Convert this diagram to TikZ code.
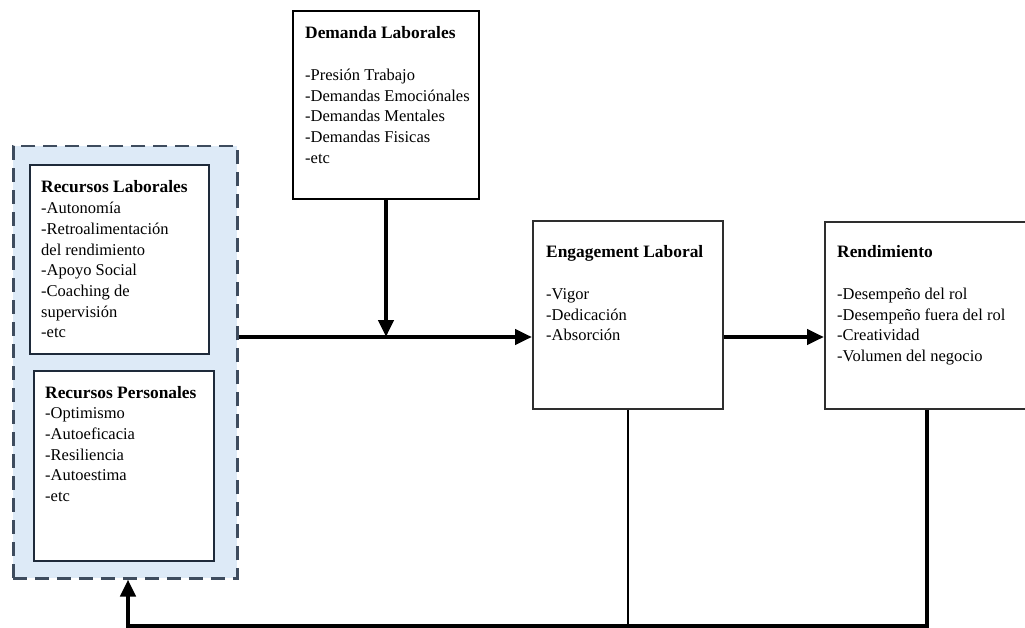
\documentclass[tikz,border=0pt]{standalone}
\usepackage{fontspec}
\setmainfont{Liberation Serif}
\usetikzlibrary{arrows.meta,positioning}
\definecolor{hblau}{HTML}{DDEAF7}
\definecolor{rahmen}{HTML}{3E4C5E}
\definecolor{navy}{HTML}{1E2A3A}
\definecolor{dgrau}{HTML}{2E2E2E}
\newcommand{\titel}[1]{{\fontsize{17.4}{20.7}\selectfont\bfseries #1}}
\newcommand{\liste}[1]{\begin{tabular}[t]{@{}l@{}}#1\end{tabular}}
\tikzset{
  pfeil/.style={-{Triangle[length=17pt,width=15pt]},line width=4.5pt,line join=miter},
  duenn/.style={line width=2pt},
  kasten/.style={draw,fill=white,anchor=north west,inner sep=0pt,line width=2pt},
  gruppe/.style={draw=rahmen,fill=hblau,anchor=north west,inner sep=0pt,line width=2.5pt,dash pattern=on 14pt off 8pt},
  txt/.style={anchor=base west,inner sep=0pt,font=\fontsize{16.5}{20.7}\selectfont},
}

\begin{document}
\begin{tikzpicture}[x=1pt,y=-1pt]
  \clip (0,0) rectangle (1025,628);
  \fill[white] (0,0) rectangle (1025,628);
  \node[gruppe,minimum width=224pt,minimum height=432pt] (ressourcen) at (12,145) {};
  \node[kasten,draw=navy,minimum width=179pt,minimum height=189pt] (lab) at (29,164) {};
  \node[kasten,draw=navy,minimum width=180pt,minimum height=190pt] (pers) at (33,370) {};
  \node[kasten,draw=black,minimum width=186pt,minimum height=188pt] (dem) at (292,10) {};
  \node[kasten,draw=dgrau,line width=1.6pt,minimum width=190pt,minimum height=188pt] (eng) at (532,220) {};
  \node[kasten,draw=dgrau,line width=1.6pt,minimum width=204pt,minimum height=187pt] (rend) at (824,221) {};

  \node[txt] (labtxt) at (41,193) {\liste{\titel{Recursos Laborales}\\-Autonomía\\-Retroalimentación\\del rendimiento\\-Apoyo Social\\-Coaching de\\supervisión\\-etc}};
  \node[txt] (perstxt) at (45,398) {\liste{\titel{Recursos Personales}\\-Optimismo\\-Autoeficacia\\-Resiliencia\\-Autoestima\\-etc}};
  \node[txt] (demtxt) at (305,39) {\liste{\titel{Demanda Laborales}\\ \\-Presión Trabajo\\-Demandas Emociónales\\-Demandas Mentales\\-Demandas Fisicas\\-etc}};
  \node[txt] (engtxt) at (546,258) {\liste{\titel{Engagement Laboral}\\ \\-Vigor\\-Dedicación\\-Absorción}};
  \node[txt] (rendtxt) at (837,258) {\liste{\titel{Rendimiento}\\ \\-Desempeño del rol\\-Desempeño fuera del rol\\-Creatividad\\-Volumen del negocio}};

  \coordinate (mitte) at (dem.south |- 0,337);
  \coordinate (unten) at (128,626);
  \draw[pfeil] (ressourcen.east |- mitte) -- (eng.west |- mitte);
  \draw[pfeil] (dem.south) -- (mitte);
  \draw[pfeil] (eng.east |- mitte) -- (rend.west |- mitte);
  \draw[duenn] (eng.south) -- (eng.south |- unten);
  \draw[pfeil] (rend.south) |- (unten) -- (unten |- ressourcen.south);
\end{tikzpicture}
\end{document}
